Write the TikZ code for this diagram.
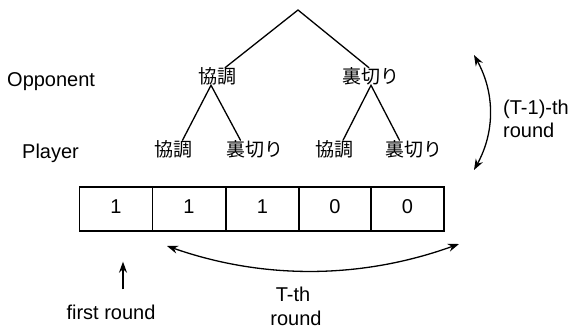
\documentclass[tikz,border=0pt]{standalone}
\usepackage{fontspec}
\setmainfont{Liberation Sans}
\newfontfamily\jpfont{Noto Sans CJK JP}
\usetikzlibrary{arrows.meta}
\begin{document}
\begin{tikzpicture}[x=1pt,y=-1pt,
  lbl/.style={font=\fontsize{20}{23}\selectfont, inner sep=0pt},
  jp/.style={font=\jpfont\fontsize{19}{19}\selectfont, inner sep=0pt,
             text height=15.8pt, text depth=1.3pt},
  branch/.style={line width=1.3pt, line cap=round},
  cell/.style={draw, line width=1.4pt, minimum width=73pt, minimum height=44pt,
               inner sep=0pt, font=\fontsize{20}{20}\selectfont,
               text height=14pt, text depth=6pt},
  arr/.style={line width=1.3pt, -{Stealth[length=11pt,width=8pt]}},
  darr/.style={line width=1.3pt, {Stealth[length=11pt,width=8pt]}-{Stealth[length=11pt,width=8pt]}}
]
\fill[white] (0,0) rectangle (573,329);
\useasboundingbox (0,0) rectangle (573,329);

% row labels
\node[lbl, anchor=base west] (opp) at (7,86) {Opponent};
\node[lbl, anchor=base west] (ply) at (22,158) {Player};

% game tree
\coordinate (root) at (298,10);
\node[jp] (o1) at (217,76.5) {協調};
\node[jp] (o2) at (371,76.5) {裏切り};
\node[jp] (p1) at (173.5,149) {協調};
\node[jp] (p2) at (254.5,149) {裏切り};
\node[jp] (p3) at (334,149) {協調};
\node[jp] (p4) at (413.5,149) {裏切り};

\draw[branch] ([xshift=8pt]o1.north) -- (root) -- ([xshift=-2pt]o2.north);
\draw[branch] ([xshift=9pt]p1.north) -- ([xshift=-6pt]o1.south) -- ([xshift=-14pt]p2.north);
\draw[branch] ([xshift=9pt]p3.north) -- (o2.south) -- ([xshift=-14pt]p4.north);

% memory string
\node[cell] (c1) at (116,209) {1};
\node[cell] (c2) at (189,209) {1};
\node[cell] (c3) at (262.5,209) {1};
\node[cell] (c4) at (335,209) {0};
\node[cell] (c5) at (407.5,209) {0};

% round annotations
\node[lbl, anchor=base west] (tm1a) at (503,114) {(T-1)-th};
\node[lbl, anchor=base west] (tm1b) at (503,137) {round};
\coordinate (rtop) at (474,55);
\coordinate (rbot) at (474,170);
\draw[darr] (rtop) .. controls (495,93) and (495,132) .. (rbot);

\node[lbl, anchor=base] (tha) at (293,301) {T-th};
\node[lbl, anchor=base] (thb) at (296,325.5) {round};
\coordinate (bl) at (167,246);
\coordinate (br) at (459,244);
\draw[darr] (bl) .. controls (264,280) and (362,279) .. (br);

\node[lbl, anchor=base] (first) at (111,319) {first round};
\draw[arr] ([xshift=12pt,yshift=15pt]first.north) -- ([xshift=7pt,yshift=-30pt]c1.south);
\end{tikzpicture}
\end{document}
